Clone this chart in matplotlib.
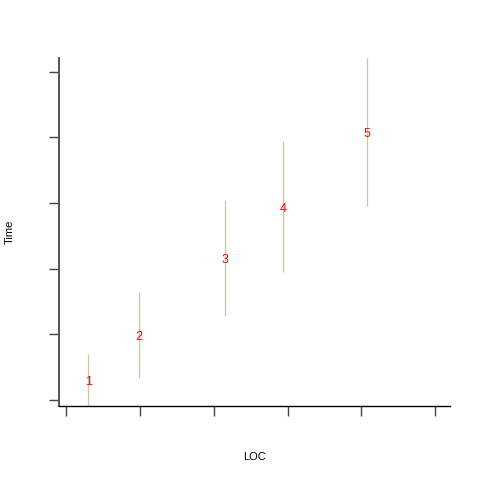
import matplotlib
matplotlib.use("Agg")
import matplotlib.pyplot as plt

plt.rcParams['font.family'] = ['Liberation Sans', 'DejaVu Sans']

# positions of the labelled points and the spread of each one
ids = ['1', '2', '3', '4', '5']
loc = [0.30, 0.99, 2.15, 2.94, 4.08]
time = [0.29, 0.98, 2.15, 2.93, 4.07]
low = [-0.30, 0.34, 1.28, 1.95, 2.95]
high = [0.70, 1.64, 3.05, 3.95, 5.30]

fig = plt.figure(figsize=(4.8, 4.8), dpi=100)
ax = fig.add_axes([59 / 480, 74 / 480, 391 / 480, 348 / 480])

ax.vlines(loc, low, high, color='#cdc69e', linewidth=0.9)
for x, y, s in zip(loc, time, ids):
    ax.text(x, y, s, color='red', fontsize=9, ha='center', va='center_baseline')

ax.set_xlim(-0.095, 5.2)
ax.set_ylim(-0.091, 5.21)
ax.set_xticks(range(6))
ax.set_yticks(range(6))
ax.set_xticklabels([])
ax.set_yticklabels([])
ax.tick_params(length=7, width=1, color='#444444')

for side in ['top', 'right']:
    ax.spines[side].set_visible(False)
ax.spines['left'].set_color('#555555')
ax.spines['left'].set_linewidth(1.4)
ax.spines['bottom'].set_linewidth(1.0)

ax.set_xlabel('LOC', fontsize=8, va='center')
ax.set_ylabel('Time', fontsize=8, va='center')
ax.xaxis.set_label_coords(0.5, (406 - 457) / 348)
ax.yaxis.set_label_coords((10 - 59) / 391, 0.5)

fig.savefig('out.png', dpi=100)
